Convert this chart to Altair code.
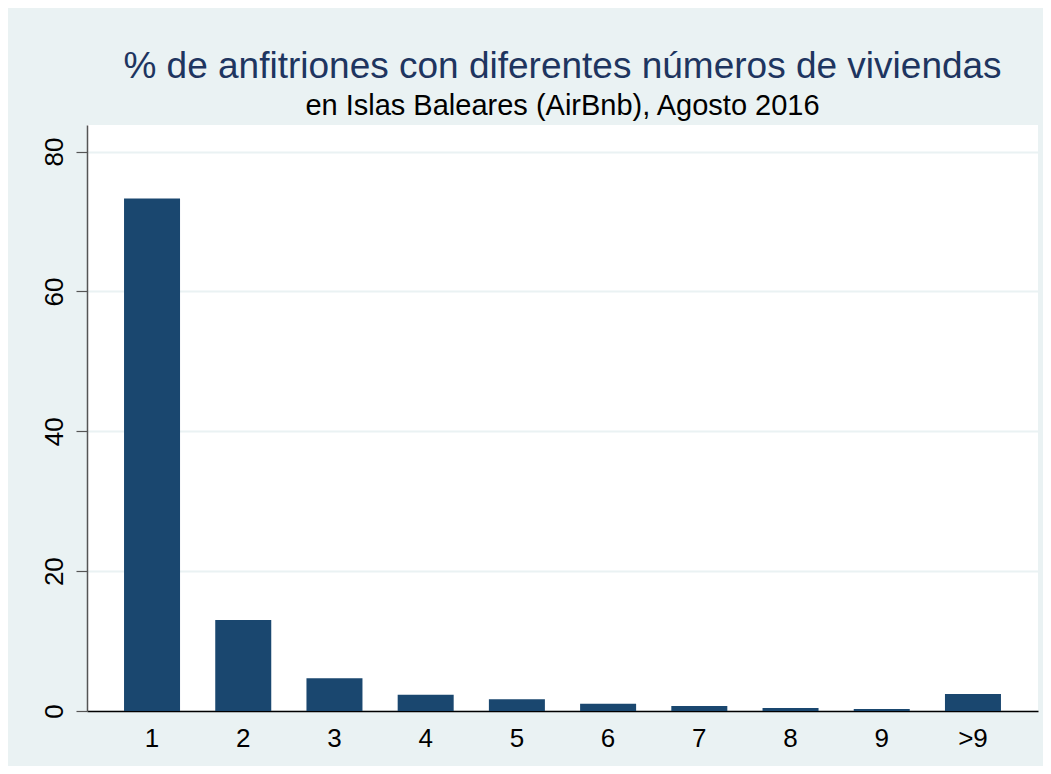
import altair as alt
import pandas as pd

categories = ["1", "2", "3", "4", "5", "6", "7", "8", "9", ">9"]
percent = [73.3, 13.0, 4.7, 2.33, 1.67, 1.04, 0.7, 0.43, 0.27, 2.43]

df = pd.DataFrame({"cat": categories, "pct": percent})

FONT = "Liberation Sans"
BG = "#EAF2F3"

chart = alt.Chart(df).mark_bar(color="#1A476F").encode(
    x=alt.X("cat:N", sort=categories,
            scale=alt.Scale(paddingInner=0.386, paddingOuter=0.406),
            axis=alt.Axis(title=None, labelAngle=0, ticks=False, domainColor="#000000",
                          domainWidth=1.5, labelFontSize=26, labelPadding=14,
                          labelColor="#000000", labelFont=FONT, grid=False)),
    y=alt.Y("pct:Q", scale=alt.Scale(domain=[0, 83.8], nice=False, zero=True),
            axis=alt.Axis(title=None, values=[0, 20, 40, 60, 80], labelAngle=270,
                          labelAlign="center", labelBaseline="bottom",
                          labelFontSize=26, labelPadding=9, labelColor="#000000",
                          labelFont=FONT, tickSize=11, tickColor="#555555",
                          tickWidth=1.2, domainColor="#555555", domainWidth=1.5,
                          grid=True, gridColor=BG, gridWidth=2)),
).properties(
    width=951,
    height=586,
    title=alt.TitleParams(
        text="% de anfitriones con diferentes números de viviendas",
        subtitle="en Islas Baleares (AirBnb), Agosto 2016",
        font=FONT, fontSize=37, fontWeight="normal", color="#1E3560",
        subtitleFont=FONT, subtitleFontSize=29, subtitleColor="#000000",
        subtitlePadding=6, anchor="middle", offset=3,
    ),
    background=BG,
    autosize=alt.AutoSizeParams(type="none"),
    padding={"left": 79, "top": 117, "right": 5, "bottom": 55},
).configure_view(fill="#FFFFFF", stroke=None)

chart.save("out.html", embed_options={"renderer": "svg", "actions": False})
